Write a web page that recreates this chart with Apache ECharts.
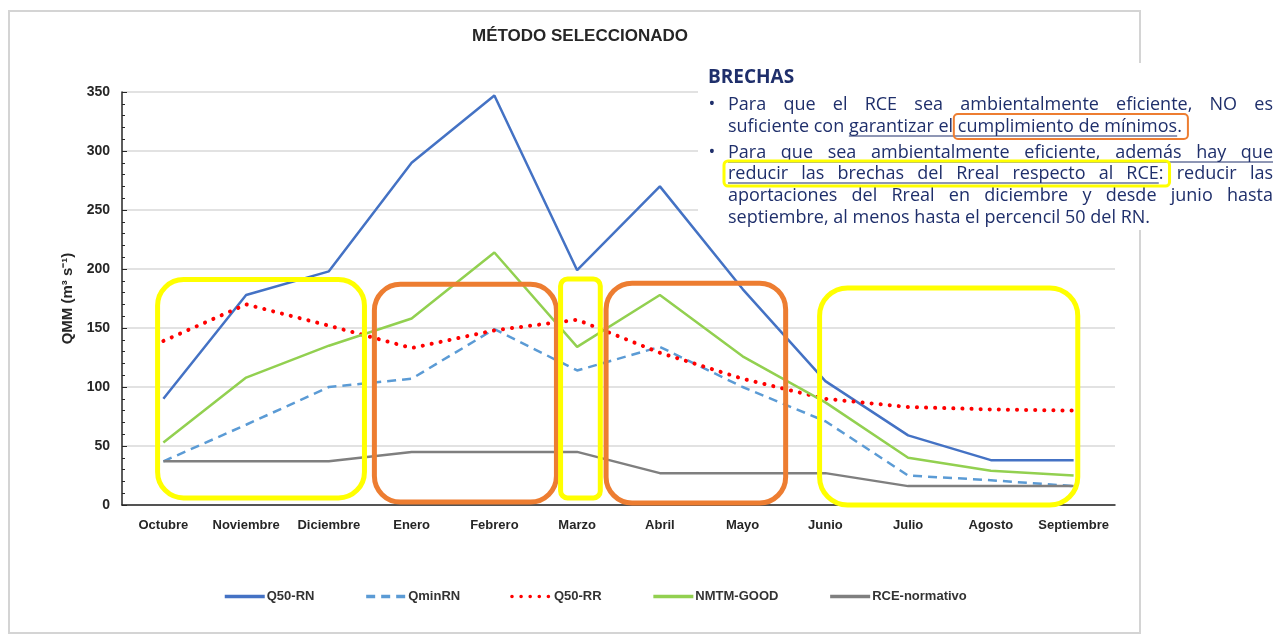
<!DOCTYPE html>
<html>

<head>
  <meta charset="UTF-8">
  <title>Método seleccionado</title>
  <style>
    html, body { margin: 0; background: #fff; }
  </style>
</head>

<body>
  <div id="main" style="width: 1285px; height: 634px;"></div>
  <script src="https://cdn.jsdelivr.net/npm/echarts@6/dist/echarts.min.js"></script>
  <script>
    // Monthly values (m3/s)
    const months = ['Octubre', 'Noviembre', 'Diciembre', 'Enero', 'Febrero', 'Marzo',
      'Abril', 'Mayo', 'Junio', 'Julio', 'Agosto', 'Septiembre'];
    const q50Rn = [90, 178, 198, 290, 347, 199, 270, 183, 105, 59, 38, 38];
    const qminRn = [37, 68, 100, 107, 149, 114, 134, 100, 71, 25, 21, 16];
    const q50Rr = [139, 170, 152, 133, 148, 157, 129, 107, 90, 83, 81, 80];
    const nmtmGood = [53, 108, 135, 158, 214, 134, 178, 126, 87, 40, 29, 25];
    const rceNormativo = [37, 37, 37, 45, 45, 45, 27, 27, 27, 16, 16, 16];

    const FONT = '"Liberation Sans Narrow", "Liberation Sans", sans-serif';
    const BODY_FONT = '"Open Sans", sans-serif';
    const NAVY = '#1f2f6b';
    const YELLOW = '#ffff00';
    const ORANGE = '#ed7d31';

    // highlight frames over the plot, in category index / axis value units
    const plotBoxes = [
      { from: -0.07, to: 2.43, top: 191, bottom: 6, color: YELLOW, r: 26 },
      { from: 2.55, to: 4.75, top: 187, bottom: 2.5, color: ORANGE, r: 26 },
      { from: 4.8, to: 5.28, top: 191.5, bottom: 6, color: YELLOW, r: 7 },
      { from: 5.35, to: 7.52, top: 188, bottom: 1.7, color: ORANGE, r: 26 },
      { from: 7.93, to: 11.05, top: 184, bottom: 0, color: YELLOW, r: 28 }
    ];

    // side note
    const noteLines = [
      { text: 'Para que el RCE sea ambientalmente eficiente, NO es', bullet: true, justify: true },
      { text: 'suficiente con garantizar el cumplimiento de mínimos.', justify: false },
      { text: 'Para que sea ambientalmente eficiente, además hay que', bullet: true, justify: true },
      { text: 'reducir las brechas del Rreal respecto al RCE: reducir las', justify: true },
      { text: 'aportaciones del Rreal en diciembre y desde junio hasta', justify: true },
      { text: 'septiembre, al menos hasta el percencil 50 del RN.', justify: false }
    ];
    const noteUnderlines = [[1, 2, 6], [2, 0, 7], [3, 0, 7]];
    const noteFrames = [
      { line: 1, from: 4, to: 6, color: ORANGE, width: 2 },
      { line: 3, from: 0, to: 7, color: YELLOW, width: 3 }
    ];
    const lineY = [105, 127, 153, 174, 196, 218];
    const textLeft = 728, textRight = 1273;

    const chart = echarts.init(document.getElementById('main'));

    const lineSeries = (name, data, color, extra) => Object.assign({
      name,
      type: 'line',
      data,
      symbol: 'none',
      lineStyle: { color, width: 2.5 },
      itemStyle: { color }
    }, extra || {});

    const option = {
      animation: false,
      backgroundColor: '#fff',
      title: {
        text: 'MÉTODO SELECCIONADO',
        left: 575,
        top: 23,
        textAlign: 'center',
        textStyle: { fontFamily: FONT, fontSize: 17, fontWeight: 'bold', color: '#262626' }
      },
      grid: { left: 122, right: 170, top: 92, bottom: 129 },
      legend: {
        left: 218,
        top: 585,
        itemWidth: 40,
        itemHeight: 14,
        itemGap: 50,
        itemStyle: { opacity: 0 },
        lineStyle: { width: 3.5 },
        textStyle: { fontFamily: FONT, fontSize: 13, fontWeight: 'bold', color: '#333', padding: [0, 0, 0, -3] },
        data: ['Q50-RN', 'QminRN', 'Q50-RR', 'NMTM-GOOD', 'RCE-normativo']
      },
      xAxis: {
        type: 'category',
        data: months,
        boundaryGap: true,
        axisLine: { lineStyle: { color: '#262626', width: 1.5 } },
        axisTick: { alignWithLabel: true, inside: true, length: 4, lineStyle: { color: '#262626' } },
        axisLabel: { fontFamily: FONT, fontSize: 13, fontWeight: 'bold', color: '#262626', margin: 14, interval: 0 },
        splitLine: { show: false }
      },
      yAxis: {
        type: 'value',
        min: 0,
        max: 350,
        interval: 50,
        name: 'QMM (m³ s⁻¹)',
        nameLocation: 'middle',
        nameRotate: 90,
        nameGap: 34,
        nameTextStyle: { fontFamily: FONT, fontSize: 15, fontWeight: 'bold', color: '#262626' },
        axisLine: { show: true, lineStyle: { color: '#262626', width: 1.5 } },
        axisTick: { show: true, inside: true, length: 5, lineStyle: { color: '#262626' } },
        minorTick: { show: true, splitNumber: 5, length: 3, lineStyle: { color: '#262626' } },
        axisLabel: { fontFamily: FONT, fontSize: 14, fontWeight: 'bold', color: '#262626', margin: 12 },
        splitLine: { lineStyle: { color: '#d9d9d9', width: 1.5 } }
      },
      series: [
        lineSeries('Q50-RN', q50Rn, '#4472c4'),
        lineSeries('QminRN', qminRn, '#5b9bd5', { lineStyle: { color: '#5b9bd5', width: 2.5, type: [9, 6] } }),
        lineSeries('Q50-RR', q50Rr, '#ff0000', { lineStyle: { color: '#ff0000', width: 4, type: [0.1, 9], cap: 'round' }, z: 3 }),
        lineSeries('NMTM-GOOD', nmtmGood, '#92d050'),
        lineSeries('RCE-normativo', rceNormativo, '#7f7f7f')
      ]
    };

    chart.setOption(option);

    // ---- overlays ----
    const ctx = document.createElement('canvas').getContext('2d');
    const measure = (s, size, weight) => {
      ctx.font = `${weight || 'normal'} ${size}px ${BODY_FONT}`;
      return ctx.measureText(s).width;
    };

    function buildGraphics() {
      const els = [];
      // outer chart frame
      els.push({
        type: 'rect', shape: { x: 9, y: 11, width: 1131, height: 622 },
        style: { fill: 'none', stroke: '#d4d4d4', lineWidth: 2 }, z: 1
      });

      // highlight frames on the plot
      const x0 = chart.convertToPixel({ xAxisIndex: 0 }, months[0]);
      const step = chart.convertToPixel({ xAxisIndex: 0 }, months[1]) - x0;
      plotBoxes.forEach(b => {
        const xl = x0 + b.from * step;
        const xr = x0 + b.to * step;
        const yt = chart.convertToPixel({ yAxisIndex: 0 }, b.top);
        const yb = chart.convertToPixel({ yAxisIndex: 0 }, b.bottom);
        els.push({
          type: 'rect', shape: { x: xl, y: yt, width: xr - xl, height: yb - yt, r: b.r },
          style: { fill: 'none', stroke: b.color, lineWidth: 5 }, z: 50
        });
      });

      // white note panel
      els.push({
        type: 'rect', shape: { x: 698, y: 63, width: 600, height: 167 },
        style: { fill: '#fff' }, z: 60
      });
      els.push({
        type: 'text', x: 708, y: 78,
        style: { text: 'BRECHAS', fill: NAVY, font: `bold 19px ${BODY_FONT}`, verticalAlign: 'middle' },
        z: 61
      });

      const fs = Math.min(18, 462 / (measure(noteLines[1].text, 100) / 100));
      const space = measure(' ', fs);
      const wordPos = [];
      noteLines.forEach((ln, li) => {
        const words = ln.text.split(' ');
        const widths = words.map(w => measure(w, fs));
        const total = widths.reduce((a, b) => a + b, 0);
        const gap = ln.justify && words.length > 1
          ? (textRight - textLeft - total) / (words.length - 1) : space;
        let x = textLeft;
        const pos = [];
        words.forEach((w, wi) => {
          pos.push({ x, w: widths[wi], word: w });
          els.push({
            type: 'text', x, y: lineY[li],
            style: { text: w, fill: NAVY, font: `${fs}px ${BODY_FONT}`, verticalAlign: 'middle' },
            z: 61
          });
          x += widths[wi] + gap;
        });
        wordPos.push(pos);
        if (ln.bullet) {
          els.push({
            type: 'text', x: 712, y: lineY[li],
            style: { text: '•', fill: NAVY, font: `${fs}px ${BODY_FONT}`, verticalAlign: 'middle', align: 'center' },
            z: 61
          });
        }
      });

      noteUnderlines.forEach(([li, a, b]) => {
        const p = wordPos[li];
        const last = p[b];
        const bare = last.word.replace(/[.:,]$/, '');
        const xEnd = last.x + measure(bare, fs);
        els.push({
          type: 'line', shape: { x1: p[a].x, y1: lineY[li] + 9, x2: xEnd, y2: lineY[li] + 9 },
          style: { stroke: NAVY, lineWidth: 1 }, z: 61
        });
      });

      noteFrames.forEach(f => {
        const p = wordPos[f.line];
        const xl = p[f.from].x - 4;
        const xr = p[f.to].x + p[f.to].w + 6;
        els.push({
          type: 'rect', shape: { x: xl, y: lineY[f.line] - 13, width: xr - xl, height: 25, r: 4 },
          style: { fill: 'none', stroke: f.color, lineWidth: f.width }, z: 62
        });
      });
      return els;
    }

    chart.setOption({ graphic: buildGraphics() });
  </script>
</body>

</html>
